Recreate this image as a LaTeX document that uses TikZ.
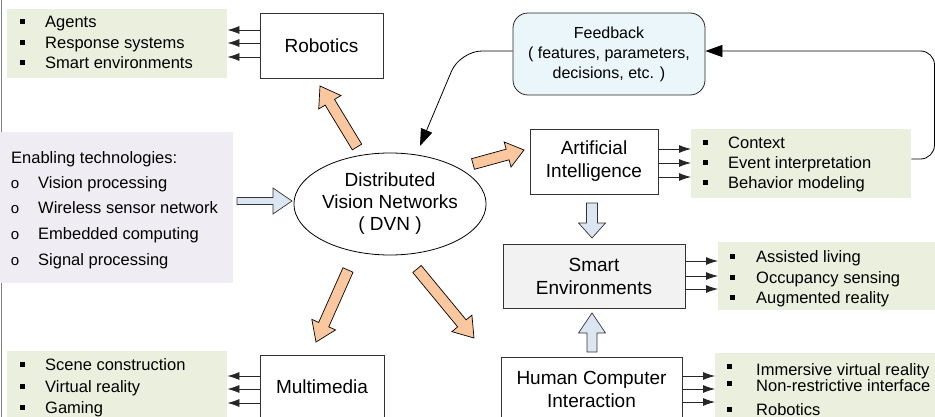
\documentclass[tikz,border=0pt]{standalone}
\usepackage{fontspec}
\setmainfont{Liberation Sans}
\usetikzlibrary{arrows.meta,calc,shapes.geometric}

\definecolor{olivebg}{RGB}{235,240,222}
\definecolor{lavbg}{RGB}{239,237,243}
\definecolor{fbfill}{RGB}{234,246,249}
\definecolor{sefill}{RGB}{242,242,242}
\definecolor{peach}{RGB}{250,199,158}
\definecolor{paleblue}{RGB}{220,230,242}

% wide block arrow from #2 to #3: style #1, shaft half width #4, head half width #5, head length #6
\newcommand{\blockarrow}[6]{%
  \coordinate (ba-h) at ($(#3)!#6!(#2)$);
  \draw[#1] ($(#2)!#4!90:(#3)$) -- ($(ba-h)!#4!90:(#3)$) -- ($(ba-h)!#5!90:(#3)$)
    -- (#3) -- ($(ba-h)!#5!-90:(#3)$) -- ($(ba-h)!#4!-90:(#3)$) -- ($(#2)!#4!-90:(#3)$) -- cycle;
}

\tikzset{
  box/.style={draw=black!80, line width=0.8pt, inner sep=0pt, align=center,
    font=\fontsize{19}{23}\selectfont},
  listbg/.style={fill=olivebg, draw=none, inner sep=0pt, anchor=north west},
  item/.style={anchor=base west, inner sep=0pt, font=\fontsize{16.5}{20}\selectfont},
  sq/.style={fill=black, minimum size=5pt, inner sep=0pt},
  ring/.style={anchor=base, inner sep=0pt, font=\fontsize{15}{15}\selectfont},
  listarr/.style={-{Latex[length=12pt,width=8pt]}, black!85, line width=0.8pt},
  fbarr/.style={-{Triangle[length=17pt,width=12pt]}, black, line width=0.8pt},
  orangearr/.style={fill=peach, draw=black, line width=0.7pt, line join=miter},
  palearr/.style={fill=paleblue, draw=black!80, line width=0.7pt, line join=miter},
}

\begin{document}
\begin{tikzpicture}[x=1pt,y=-1pt]
\useasboundingbox (0,0) rectangle (935,417);
\clip (0,0) rectangle (935,417);

% left margin rule
\draw[gray, line width=1.4pt] (1.2,0) -- (1.2,417);

% ---------- enabling technologies ----------
\node[fill=lavbg, inner sep=0pt, anchor=north west, minimum width=233pt, minimum height=151pt] (en) at (0,132) {};
\node[item] (entitle) at (11,164) {Enabling technologies:};
\foreach \yb/\t [count=\i] in {189/Vision processing, 214/Wireless sensor network, 240/Embedded computing, 265/Signal processing}{
  \node[ring] (enr\i) at (15,\yb) {o};
  \node[item] (eni\i) at (38,\yb) {\t};
}

% ---------- central node ----------
\node[ellipse, draw=black, line width=0.8pt, minimum width=190pt, minimum height=102pt, inner sep=0pt,
  align=center, font=\fontsize{19}{22}\selectfont] (dvn) at (390,204) {Distributed\\Vision Networks\\( DVN )};

% ---------- robotics ----------
\node[box, minimum width=123pt, minimum height=65pt] (rob) at (321.5,45.5) {Robotics};
\node[listbg, minimum width=220pt, minimum height=69pt] (roblist) at (7,9) {};
\foreach \yb/\t [count=\i] in {28/Agents, 49/Response systems, 69/Smart environments}{
  \node[sq] (robb\i) at (22,\yb-6) {};
  \node[item] (robi\i) at (45,\yb) {\t};
}
\foreach \ya in {30,43,57} \draw[listarr] (rob.west |- 0,\ya) -- (roblist.east |- 0,\ya);

% ---------- multimedia ----------
\node[box, minimum width=124pt, minimum height=64pt] (mm) at (322,387) {Multimedia};
\node[listbg, minimum width=220pt, minimum height=72pt] (mmlist) at (7,351) {};
\foreach \yb/\t [count=\i] in {370/Scene construction, 392/Virtual reality, 413/Gaming}{
  \node[sq] (mmb\i) at (22,\yb-6) {};
  \node[item] (mmi\i) at (45,\yb) {\t};
}
\foreach \ya in {376,389,403} \draw[listarr] (mm.west |- 0,\ya) -- (mmlist.east |- 0,\ya);

% ---------- feedback ----------
\node[draw=black!85, line width=0.8pt, fill=fbfill, rounded corners=15pt, minimum width=192pt,
  minimum height=82pt, inner sep=0pt, align=center, font=\fontsize{16}{20}\selectfont] (fb) at (609,54)
  {Feedback\\( features, parameters,\\decisions, etc. )};

% ---------- artificial intelligence ----------
\node[box, minimum width=128pt, minimum height=65pt] (ai) at (594,161.5) {Artificial\\Intelligence};
\node[listbg, minimum width=220pt, minimum height=69pt] (ailist) at (691,129) {};
\foreach \yb/\t [count=\i] in {149/Context, 169/Event interpretation, 189/Behavior modeling}{
  \node[sq] (aib\i) at (705,\yb-6) {};
  \node[item] (aii\i) at (728,\yb) {\t};
}
\foreach \ya in {149,163,177} \draw[listarr] (ai.east |- 0,\ya) -- (ailist.west |- 0,\ya);

% ---------- smart environments ----------
\node[box, fill=sefill, minimum width=182pt, minimum height=64pt] (se) at (594,276) {Smart\\Environments};
\node[listbg, minimum width=230pt, minimum height=68pt] (selist) at (718,242) {};
\foreach \yb/\t [count=\i] in {262/Assisted living, 283/Occupancy sensing, 303/Augmented reality}{
  \node[sq] (seb\i) at (732,\yb-6) {};
  \node[item] (sei\i) at (756,\yb) {\t};
}
\foreach \ya in {261,276,289} \draw[listarr] (se.east |- 0,\ya) -- (selist.west |- 0,\ya);

% ---------- human computer interaction ----------
\node[box, minimum width=181pt, minimum height=64pt] (hci) at (591.5,389) {Human Computer\\Interaction};
\node[listbg, minimum width=230pt, minimum height=70pt] (hcilist) at (715,353) {};
\foreach \yb/\ys/\t [count=\i] in {375/366/Immersive virtual reality, 391/383/Non-restrictive interface, 415/409/Robotics}{
  \node[sq] (hcib\i) at (729,\ys) {};
  \node[item] (hcii\i) at (756,\yb) {\t};
}
\foreach \ya in {376,389,402} \draw[listarr] (hci.east |- 0,\ya) -- (hcilist.west |- 0,\ya);

% ---------- feedback loop ----------
\coordinate (fbend) at (420,146);
\draw[fbarr, rounded corners=22pt] (fb.west |- 0,51) -- (460,51) -- (fbend);
\draw[fbarr, rounded corners=14pt] (ailist.east |- 0,159) -- (934.5,159) -- (934.5,51) -- (fb.east |- 0,51);

% ---------- wide arrows out of the central node ----------
\coordinate (r0) at (357,147); \coordinate (r1) at (320,86);
\coordinate (a0) at (473,164); \coordinate (a1) at (524,150);
\coordinate (m0) at (348,270); \coordinate (m1) at (316,342);
\coordinate (h0) at (417,269); \coordinate (h1) at (474,338);
\blockarrow{orangearr}{r0}{r1}{5.5pt}{13pt}{19pt}
\blockarrow{orangearr}{a0}{a1}{5.5pt}{13pt}{17pt}
\blockarrow{orangearr}{m0}{m1}{5.5pt}{13pt}{19pt}
\blockarrow{orangearr}{h0}{h1}{5.5pt}{13pt}{19pt}

% ---------- hollow arrows ----------
\coordinate (e0) at (237,201); \coordinate (e1) at (292,201);
\coordinate (d0) at (592,203); \coordinate (d1) at (592,238);
\coordinate (u0) at (592,352); \coordinate (u1) at (592,313);
\blockarrow{palearr}{e0}{e1}{3.5pt}{13pt}{19pt}
\blockarrow{palearr}{d0}{d1}{5.5pt}{13.5pt}{15pt}
\blockarrow{palearr}{u0}{u1}{5pt}{13.5pt}{20pt}
\end{tikzpicture}
\end{document}
